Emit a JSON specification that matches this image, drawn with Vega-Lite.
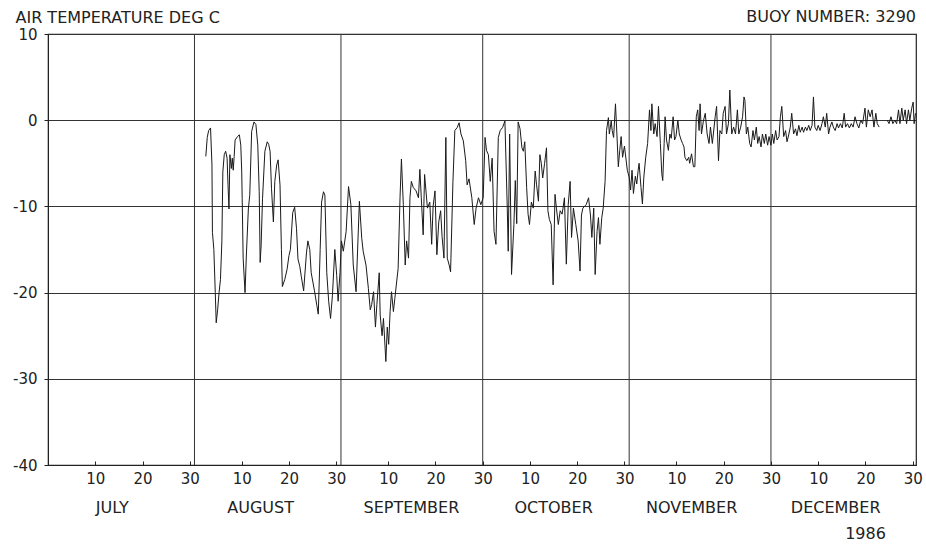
{
  "$schema": "https://vega.github.io/schema/vega-lite/v6.json",
  "width": 868,
  "height": 431,
  "autosize": "none",
  "padding": {"left": 48, "top": 34, "right": 10, "bottom": 87},
  "background": "white",
  "config": {
    "view": {"stroke": "#222", "strokeWidth": 1.2},
    "font": "DejaVu Sans",
    "axis": {
      "labelFont": "DejaVu Sans", "labelFontSize": 14, "labelColor": "#222",
      "titleFont": "DejaVu Sans", "titleFontSize": 16, "titleFontWeight": "normal", "titleColor": "#222",
      "domainColor": "#222", "tickColor": "#222", "gridColor": "#333", "gridOpacity": 1, "gridWidth": 1
    }
  },
  "datasets": {
    "buoy": [
      {"day":33.4,"temp":-4.2,"run":1},{"day":33.7,"temp":-2.0,"run":1},{"day":34.0,"temp":-1.2,"run":1},{"day":34.4,"temp":-0.9,"run":1},
      {"day":34.7,"temp":-5.2,"run":1},{"day":34.8,"temp":-13,"run":1},{"day":35.1,"temp":-15,"run":1},{"day":35.4,"temp":-20,"run":1},
      {"day":35.6,"temp":-23.5,"run":1},{"day":35.9,"temp":-22,"run":1},{"day":36.2,"temp":-20,"run":1},{"day":36.5,"temp":-18.5,"run":1},
      {"day":36.8,"temp":-14,"run":1},{"day":37.0,"temp":-6,"run":1},{"day":37.3,"temp":-4,"run":1},{"day":37.6,"temp":-3.6,"run":1},
      {"day":37.9,"temp":-4.4,"run":1},{"day":38.1,"temp":-7.5,"run":1},{"day":38.3,"temp":-10.3,"run":1},{"day":38.5,"temp":-4,"run":1},
      {"day":38.8,"temp":-5.6,"run":1},{"day":39.0,"temp":-4.4,"run":1},{"day":39.2,"temp":-5.8,"run":1},{"day":39.4,"temp":-4.2,"run":1},
      {"day":39.6,"temp":-2.3,"run":1},{"day":40.1,"temp":-1.9,"run":1},{"day":40.5,"temp":-1.7,"run":1},{"day":40.8,"temp":-2.9,"run":1},
      {"day":41.0,"temp":-6,"run":1},{"day":41.1,"temp":-9.1,"run":1},{"day":41.3,"temp":-16,"run":1},{"day":41.7,"temp":-20,"run":1},
      {"day":42.0,"temp":-15.4,"run":1},{"day":42.4,"temp":-10.3,"run":1},{"day":42.7,"temp":-8.7,"run":1},{"day":43.1,"temp":-1.3,"run":1},
      {"day":43.6,"temp":-0.2,"run":1},{"day":44.0,"temp":-0.5,"run":1},{"day":44.4,"temp":-2.9,"run":1},{"day":44.7,"temp":-8.3,"run":1},
      {"day":44.9,"temp":-16.5,"run":1},{"day":45.1,"temp":-14.6,"run":1},{"day":45.4,"temp":-9.1,"run":1},{"day":45.9,"temp":-3.6,"run":1},
      {"day":46.4,"temp":-2.5,"run":1},{"day":46.7,"temp":-2.8,"run":1},{"day":47.0,"temp":-3.6,"run":1},{"day":47.3,"temp":-7.9,"run":1},
      {"day":47.7,"temp":-11.8,"run":1},{"day":48.0,"temp":-7.1,"run":1},{"day":48.4,"temp":-5.2,"run":1},{"day":48.7,"temp":-4.6,"run":1},
      {"day":49.1,"temp":-7.5,"run":1},{"day":49.4,"temp":-15,"run":1},{"day":49.6,"temp":-19.3,"run":1},{"day":50.1,"temp":-18.5,"run":1},
      {"day":50.6,"temp":-17.3,"run":1},{"day":51.0,"temp":-15.7,"run":1},{"day":51.3,"temp":-15,"run":1},{"day":51.8,"temp":-10.7,"run":1},
      {"day":52.2,"temp":-10.1,"run":1},{"day":52.6,"temp":-12.6,"run":1},{"day":52.9,"temp":-16.1,"run":1},{"day":53.3,"temp":-17,"run":1},
      {"day":53.6,"temp":-18.1,"run":1},{"day":54.1,"temp":-19.8,"run":1},{"day":54.7,"temp":-15.4,"run":1},{"day":55.0,"temp":-14,"run":1},
      {"day":55.4,"temp":-15,"run":1},{"day":55.7,"temp":-17.7,"run":1},{"day":56.4,"temp":-19.8,"run":1},{"day":56.9,"temp":-21.5,"run":1},
      {"day":57.2,"temp":-22.5,"run":1},{"day":57.6,"temp":-15,"run":1},{"day":57.9,"temp":-9.5,"run":1},{"day":58.3,"temp":-8.3,"run":1},
      {"day":58.6,"temp":-8.7,"run":1},{"day":59.0,"temp":-17.7,"run":1},{"day":59.4,"temp":-21,"run":1},{"day":59.8,"temp":-23,"run":1},
      {"day":60.2,"temp":-20.3,"run":1},{"day":60.7,"temp":-15,"run":1},{"day":61.1,"temp":-18,"run":1},{"day":61.4,"temp":-21,"run":1},
      {"day":61.8,"temp":-17.7,"run":1},{"day":62.1,"temp":-14,"run":1},{"day":62.5,"temp":-15.2,"run":1},{"day":63.1,"temp":-12.9,"run":1},
      {"day":63.6,"temp":-7.7,"run":1},{"day":64.1,"temp":-9.8,"run":1},{"day":64.6,"temp":-16.8,"run":1},{"day":65.2,"temp":-19.9,"run":1},
      {"day":65.9,"temp":-9.4,"run":1},{"day":66.4,"temp":-13.7,"run":1},{"day":66.7,"temp":-15.2,"run":1},{"day":67.3,"temp":-16.8,"run":1},
      {"day":67.8,"temp":-19.5,"run":1},{"day":68.2,"temp":-22,"run":1},{"day":68.5,"temp":-21.4,"run":1},{"day":68.9,"temp":-19.9,"run":1},
      {"day":69.3,"temp":-24,"run":1},{"day":69.6,"temp":-21.4,"run":1},{"day":70.1,"temp":-17.7,"run":1},{"day":70.3,"temp":-22.6,"run":1},
      {"day":70.7,"temp":-25,"run":1},{"day":71.0,"temp":-23,"run":1},{"day":71.5,"temp":-28,"run":1},{"day":71.8,"temp":-24,"run":1},
      {"day":72.1,"temp":-26,"run":1},{"day":72.4,"temp":-22.2,"run":1},{"day":72.7,"temp":-19.9,"run":1},{"day":73.1,"temp":-22.2,"run":1},
      {"day":73.4,"temp":-20.7,"run":1},{"day":74.1,"temp":-17.2,"run":1},{"day":74.5,"temp":-9,"run":1},{"day":74.8,"temp":-4.5,"run":1},
      {"day":75.2,"temp":-9.8,"run":1},{"day":75.6,"temp":-16.8,"run":1},{"day":75.9,"temp":-14,"run":1},{"day":76.3,"temp":-16,"run":1},
      {"day":76.6,"temp":-9,"run":1},{"day":76.9,"temp":-7.1,"run":1},{"day":77.3,"temp":-7.8,"run":1},{"day":77.9,"temp":-8.2,"run":1},
      {"day":78.4,"temp":-9,"run":1},{"day":78.7,"temp":-5.7,"run":1},{"day":79.0,"temp":-9,"run":1},{"day":79.4,"temp":-13.3,"run":1},
      {"day":79.7,"temp":-6.3,"run":1},{"day":80.3,"temp":-10.2,"run":1},{"day":80.8,"temp":-9.5,"run":1},{"day":81.2,"temp":-14.4,"run":1},
      {"day":81.5,"temp":-10,"run":1},{"day":81.9,"temp":-8.2,"run":1},{"day":82.3,"temp":-15.6,"run":1},{"day":82.7,"temp":-11.8,"run":1},
      {"day":83.1,"temp":-10.5,"run":1},{"day":83.4,"temp":-13.5,"run":1},{"day":83.8,"temp":-16,"run":1},{"day":84.2,"temp":-2,"run":1},
      {"day":84.5,"temp":-16,"run":1},{"day":84.9,"temp":-16.8,"run":1},{"day":85.2,"temp":-17.6,"run":1},{"day":85.7,"temp":-7.1,"run":1},
      {"day":86.1,"temp":-1.2,"run":1},{"day":86.6,"temp":-0.85,"run":1},{"day":87.0,"temp":-0.3,"run":1},{"day":87.4,"temp":-1.6,"run":1},
      {"day":87.9,"temp":-2.4,"run":1},{"day":88.4,"temp":-4.7,"run":1},{"day":88.7,"temp":-7.5,"run":1},{"day":89.1,"temp":-6.8,"run":1},
      {"day":89.7,"temp":-9,"run":1},{"day":90.2,"temp":-12.1,"run":1},{"day":90.6,"temp":-10.2,"run":1},{"day":91.1,"temp":-9,"run":1},
      {"day":91.6,"temp":-9.8,"run":1},{"day":92.1,"temp":-9,"run":1},{"day":92.5,"temp":-2,"run":1},{"day":92.8,"temp":-3.5,"run":1},
      {"day":93.2,"temp":-4,"run":1},{"day":93.6,"temp":-7.1,"run":1},{"day":94.0,"temp":-4.4,"run":1},{"day":94.4,"temp":-12.9,"run":1},
      {"day":94.8,"temp":-14.4,"run":1},{"day":95.3,"temp":-2,"run":1},{"day":95.7,"temp":-1.2,"run":1},{"day":96.2,"temp":-0.85,"run":1},
      {"day":96.7,"temp":-0.1,"run":1},{"day":97.2,"temp":-10.2,"run":1},{"day":97.4,"temp":-15.2,"run":1},{"day":97.7,"temp":-1.6,"run":1},
      {"day":98.1,"temp":-17.9,"run":1},{"day":98.6,"temp":-12.1,"run":1},{"day":98.9,"temp":-7,"run":1},{"day":99.2,"temp":-12,"run":1},
      {"day":99.5,"temp":-0.2,"run":1},{"day":99.9,"temp":-1,"run":1},{"day":100.3,"temp":-3.2,"run":1},{"day":100.6,"temp":-3.6,"run":1},
      {"day":100.9,"temp":-2.5,"run":1},{"day":101.3,"temp":-7.8,"run":1},{"day":101.6,"temp":-10.9,"run":1},{"day":101.9,"temp":-12.1,"run":1},
      {"day":102.3,"temp":-9.5,"run":1},{"day":102.7,"temp":-10.2,"run":1},{"day":103.1,"temp":-5.9,"run":1},{"day":103.4,"temp":-7.5,"run":1},
      {"day":103.8,"temp":-9.4,"run":1},{"day":104.1,"temp":-4,"run":1},{"day":104.4,"temp":-5,"run":1},{"day":104.7,"temp":-6.7,"run":1},
      {"day":105.1,"temp":-5,"run":1},{"day":105.5,"temp":-3.2,"run":1},{"day":105.8,"temp":-10.5,"run":1},{"day":106.1,"temp":-11.5,"run":1},
      {"day":106.5,"temp":-12.1,"run":1},{"day":106.9,"temp":-19.1,"run":1},{"day":107.3,"temp":-8.6,"run":1},{"day":107.6,"temp":-10.2,"run":1},
      {"day":108.0,"temp":-12.1,"run":1},{"day":108.4,"temp":-10.5,"run":1},{"day":108.8,"temp":-10.9,"run":1},{"day":109.0,"temp":-10.2,"run":1},
      {"day":109.3,"temp":-9,"run":1},{"day":109.7,"temp":-16.7,"run":1},{"day":110.1,"temp":-9.8,"run":1},{"day":110.5,"temp":-7.1,"run":1},
      {"day":110.8,"temp":-13.6,"run":1},{"day":111.2,"temp":-10.2,"run":1},{"day":111.7,"temp":-12.1,"run":1},{"day":112.2,"temp":-14,"run":1},
      {"day":112.6,"temp":-17.5,"run":1},{"day":112.9,"temp":-11,"run":1},{"day":113.2,"temp":-10.2,"run":1},{"day":113.9,"temp":-9.8,"run":1},
      {"day":114.4,"temp":-9,"run":1},{"day":114.8,"temp":-11,"run":1},{"day":115.1,"temp":-13.6,"run":1},{"day":115.5,"temp":-10.2,"run":1},
      {"day":115.8,"temp":-17.9,"run":1},{"day":116.2,"temp":-12.9,"run":1},{"day":116.5,"temp":-11.3,"run":1},{"day":116.8,"temp":-14.4,"run":1},
      {"day":117.2,"temp":-11.3,"run":1},{"day":117.5,"temp":-10.2,"run":1},{"day":117.9,"temp":-7.1,"run":1},{"day":118.2,"temp":-1.2,"run":1},
      {"day":118.6,"temp":0.3,"run":1},{"day":118.8,"temp":-1.6,"run":1},{"day":119.2,"temp":-0.1,"run":1},{"day":119.4,"temp":-1.2,"run":1},
      {"day":119.7,"temp":-2,"run":1},{"day":120.1,"temp":1.9,"run":1},{"day":120.4,"temp":-1.6,"run":1},{"day":120.7,"temp":-5.4,"run":1},
      {"day":121.0,"temp":-3.5,"run":1},{"day":121.3,"temp":-1.9,"run":1},{"day":121.6,"temp":-4.3,"run":1},{"day":122.0,"temp":-3,"run":1},
      {"day":122.6,"temp":-5.8,"run":1},{"day":123.0,"temp":-6.6,"run":1},{"day":123.3,"temp":-8.1,"run":1},{"day":123.6,"temp":-5.8,"run":1},
      {"day":123.9,"temp":-8.5,"run":1},{"day":124.3,"temp":-6.5,"run":1},{"day":124.6,"temp":-7.4,"run":1},{"day":124.9,"temp":-5.8,"run":1},
      {"day":125.1,"temp":-5,"run":1},{"day":125.5,"temp":-7.8,"run":1},{"day":125.8,"temp":-9.7,"run":1},{"day":126.1,"temp":-6.6,"run":1},
      {"day":126.5,"temp":-4.3,"run":1},{"day":126.9,"temp":-2.7,"run":1},{"day":127.3,"temp":1.2,"run":1},{"day":127.6,"temp":-1.2,"run":1},
      {"day":127.8,"temp":1.9,"run":1},{"day":128.2,"temp":-1.6,"run":1},{"day":128.5,"temp":-0.4,"run":1},{"day":128.9,"temp":-1.9,"run":1},
      {"day":129.2,"temp":1.6,"run":1},{"day":129.6,"temp":-2.7,"run":1},{"day":129.9,"temp":-6.2,"run":1},{"day":130.1,"temp":-7,"run":1},
      {"day":130.4,"temp":-2.7,"run":1},{"day":130.6,"temp":0.4,"run":1},{"day":130.9,"temp":-2.3,"run":1},{"day":131.3,"temp":-3.5,"run":1},
      {"day":131.6,"temp":-1.6,"run":1},{"day":131.9,"temp":-2.1,"run":1},{"day":132.3,"temp":0.4,"run":1},{"day":132.6,"temp":-2.3,"run":1},
      {"day":132.9,"temp":-1.9,"run":1},{"day":133.3,"temp":0,"run":1},{"day":133.6,"temp":-1.6,"run":1},{"day":134.0,"temp":-2.3,"run":1},
      {"day":134.3,"temp":-2.7,"run":1},{"day":134.6,"temp":-3.1,"run":1},{"day":134.8,"temp":-4.3,"run":1},{"day":135.2,"temp":-4.7,"run":1},
      {"day":135.6,"temp":-4.3,"run":1},{"day":135.8,"temp":-5,"run":1},{"day":136.2,"temp":-3.9,"run":1},{"day":136.6,"temp":-5.4,"run":1},
      {"day":136.9,"temp":-5.4,"run":1},{"day":137.2,"temp":0.4,"run":1},{"day":137.5,"temp":1.2,"run":1},{"day":137.8,"temp":-1.2,"run":1},
      {"day":138.0,"temp":1.9,"run":1},{"day":138.3,"temp":-1.6,"run":1},{"day":138.7,"temp":-0.1,"run":1},{"day":139.1,"temp":0.8,"run":1},
      {"day":139.5,"temp":-1.6,"run":1},{"day":139.9,"temp":-2.7,"run":1},{"day":140.2,"temp":-0.8,"run":1},{"day":140.6,"temp":-2.7,"run":1},
      {"day":141.2,"temp":0.4,"run":1},{"day":141.5,"temp":1.6,"run":1},{"day":141.9,"temp":-4.7,"run":1},{"day":142.2,"temp":-1.2,"run":1},
      {"day":142.6,"temp":-1.6,"run":1},{"day":142.9,"temp":0.8,"run":1},{"day":143.3,"temp":1.6,"run":1},{"day":143.6,"temp":-1.6,"run":1},
      {"day":144.0,"temp":-0.4,"run":1},{"day":144.3,"temp":3.5,"run":1},{"day":144.7,"temp":-1.6,"run":1},{"day":145.1,"temp":-0.8,"run":1},
      {"day":145.5,"temp":-1.6,"run":1},{"day":145.9,"temp":1.2,"run":1},{"day":146.2,"temp":-1.6,"run":1},{"day":146.6,"temp":-0.8,"run":1},
      {"day":147.0,"temp":0.4,"run":1},{"day":147.3,"temp":2.7,"run":1},{"day":147.5,"temp":2.3,"run":1},{"day":147.8,"temp":-1.6,"run":1},
      {"day":148.1,"temp":-0.8,"run":1},{"day":148.5,"temp":-2.7,"run":1},{"day":148.8,"temp":-3.1,"run":1},{"day":149.2,"temp":-1.2,"run":1},
      {"day":149.5,"temp":-2.3,"run":1},{"day":149.9,"temp":-0.8,"run":1},{"day":150.2,"temp":-2.7,"run":1},{"day":150.5,"temp":-1.9,"run":1},
      {"day":150.9,"temp":-3.1,"run":1},{"day":151.2,"temp":-1.6,"run":1},{"day":151.6,"temp":-2.7,"run":1},{"day":151.9,"temp":-1.6,"run":1},
      {"day":152.3,"temp":-2.9,"run":1},{"day":152.6,"temp":-1.9,"run":1},{"day":153.0,"temp":-2.9,"run":1},{"day":153.3,"temp":-1.6,"run":1},
      {"day":153.6,"temp":-2.7,"run":1},{"day":154.0,"temp":-1.2,"run":1},{"day":154.3,"temp":-2.3,"run":1},{"day":154.7,"temp":-1.9,"run":1},
      {"day":155.0,"temp":0.4,"run":1},{"day":155.3,"temp":1.6,"run":1},{"day":155.7,"temp":-1.9,"run":1},{"day":156.1,"temp":-1.2,"run":1},
      {"day":156.4,"temp":-2.5,"run":1},{"day":156.8,"temp":-1.6,"run":1},{"day":157.1,"temp":-0.8,"run":1},{"day":157.4,"temp":0.8,"run":1},
      {"day":157.8,"temp":-1.6,"run":1},{"day":158.2,"temp":-1.0,"run":1},{"day":158.5,"temp":-1.8,"run":1},{"day":158.9,"temp":-0.6,"run":1},
      {"day":159.2,"temp":-1.4,"run":1},{"day":159.6,"temp":-0.8,"run":1},{"day":159.9,"temp":-1.4,"run":1},{"day":160.3,"temp":-0.8,"run":1},
      {"day":160.6,"temp":-1.2,"run":1},{"day":161.0,"temp":-0.6,"run":1},{"day":161.3,"temp":-1.2,"run":1},{"day":161.7,"temp":-0.6,"run":1},
      {"day":162.0,"temp":2.7,"run":1},{"day":162.3,"temp":-0.8,"run":1},{"day":162.7,"temp":-1.2,"run":1},{"day":163.0,"temp":-0.6,"run":1},
      {"day":163.4,"temp":-1.2,"run":1},{"day":163.8,"temp":-0.4,"run":1},{"day":164.1,"temp":0.4,"run":1},{"day":164.5,"temp":-0.8,"run":1},
      {"day":164.8,"temp":0.8,"run":1},{"day":165.2,"temp":-1.6,"run":1},{"day":165.5,"temp":-0.8,"run":1},{"day":165.9,"temp":-0.2,"run":1},
      {"day":166.2,"temp":-0.8,"run":1},{"day":166.6,"temp":-1.2,"run":1},{"day":167.0,"temp":-0.4,"run":1},{"day":167.3,"temp":-0.9,"run":1},
      {"day":167.7,"temp":-0.4,"run":1},{"day":168.1,"temp":-0.9,"run":1},{"day":168.5,"temp":0.8,"run":1},{"day":168.8,"temp":-0.8,"run":1},
      {"day":169.2,"temp":-0.4,"run":1},{"day":169.6,"temp":-0.9,"run":1},{"day":170.0,"temp":-0.4,"run":1},{"day":170.4,"temp":-0.8,"run":1},
      {"day":170.8,"temp":0.4,"run":1},{"day":171.2,"temp":-0.4,"run":1},{"day":171.6,"temp":-0.9,"run":1},{"day":172.0,"temp":0,"run":1},
      {"day":172.4,"temp":-0.4,"run":1},{"day":172.9,"temp":1.4,"run":1},{"day":173.2,"temp":-0.8,"run":1},{"day":173.6,"temp":1.2,"run":1},
      {"day":174.0,"temp":0.4,"run":1},{"day":174.4,"temp":1.2,"run":1},{"day":174.8,"temp":-0.8,"run":1},{"day":175.2,"temp":0.8,"run":1},
      {"day":175.5,"temp":-0.4,"run":1},{"day":175.9,"temp":-0.8,"run":1},
      {"day":177.6,"temp":0,"run":2},{"day":178.0,"temp":-0.4,"run":2},{"day":178.4,"temp":0.4,"run":2},{"day":178.8,"temp":-0.4,"run":2},
      {"day":179.2,"temp":0,"run":2},{"day":179.6,"temp":-0.4,"run":2},{"day":180.0,"temp":1.2,"run":2},{"day":180.3,"temp":-0.4,"run":2},
      {"day":180.7,"temp":1.4,"run":2},{"day":181.0,"temp":0,"run":2},{"day":181.4,"temp":1.2,"run":2},{"day":181.7,"temp":-0.4,"run":2},
      {"day":182.1,"temp":1.2,"run":2},{"day":182.4,"temp":0,"run":2},{"day":182.8,"temp":1.4,"run":2},{"day":183.1,"temp":2.1,"run":2},
      {"day":183.3,"temp":-0.4,"run":2},{"day":183.6,"temp":0.8,"run":2}
    ],
    "monthEnds": [{"boundary":31},{"boundary":62},{"boundary":92},{"boundary":123},{"boundary":153}],
    "buoyId": [{"label":"BUOY NUMBER: 3290"}]
  },
  "layer": [
    {
      "data": {"name": "monthEnds"},
      "mark": {"type": "rule", "color": "#333", "strokeWidth": 1},
      "encoding": {
        "x": {
          "field": "boundary", "type": "quantitative",
          "scale": {"domain": [0, 183.7], "nice": false, "zero": false},
          "axis": {
            "orient": "bottom", "values": [13.5, 44.9, 76.8, 106.9, 136.1, 166.6],
            "labelExpr": "datum.value < 30 ? 'JULY' : datum.value < 60 ? 'AUGUST' : datum.value < 90 ? 'SEPTEMBER' : datum.value < 120 ? 'OCTOBER' : datum.value < 150 ? 'NOVEMBER' : 'DECEMBER'",
            "ticks": false, "domain": false, "grid": false, "labelPadding": 34, "labelFontSize": 16, "title": null
          }
        }
      }
    },
    {
      "data": {"name": "buoy"},
      "mark": {"type": "line", "color": "#1a1a1a", "strokeWidth": 1, "clip": true},
      "encoding": {
        "x": {
          "field": "day", "type": "quantitative",
          "scale": {"domain": [0, 183.7], "nice": false, "zero": false},
          "axis": {
            "orient": "bottom",
            "values": [10, 20, 30, 41, 51, 61, 72, 82, 92, 102, 112, 122, 133, 143, 153, 163, 173, 183],
            "labelExpr": "datum.value <= 31 ? datum.value : datum.value <= 62 ? datum.value - 31 : datum.value <= 92 ? datum.value - 62 : datum.value <= 123 ? datum.value - 92 : datum.value <= 153 ? datum.value - 123 : datum.value - 153",
            "grid": false, "tickSize": -4, "labelPadding": 10, "labelFontSize": 15,
            "title": "1986", "titleX": 817, "titleY": 68, "titleAlign": "center", "titleBaseline": "middle", "titleFontSize": 16
          }
        },
        "y": {
          "field": "temp", "type": "quantitative",
          "scale": {"domain": [-40, 10], "nice": false, "zero": false},
          "axis": {
            "values": [-40, -30, -20, -10, 0, 10],
            "labelExpr": "datum.value < 0 ? '-' + abs(datum.value) : '' + datum.value",
            "grid": true, "tickSize": 4, "labelPadding": 7, "labelFontSize": 15,
            "title": "AIR TEMPERATURE DEG C", "titleAngle": 0, "titleX": -33, "titleY": -17,
            "titleAlign": "left", "titleBaseline": "middle", "titleFontSize": 16
          }
        },
        "detail": {"field": "run", "type": "nominal"}
      }
    },
    {
      "data": {"name": "buoyId"},
      "mark": {"type": "text", "align": "right", "baseline": "middle", "fontSize": 16, "font": "DejaVu Sans", "color": "#222", "clip": false},
      "encoding": {
        "x": {"datum": 183.7, "type": "quantitative", "axis": null},
        "y": {"datum": 11.95, "type": "quantitative"},
        "text": {"field": "label", "type": "nominal"}
      }
    }
  ],
  "resolve": {"axis": {"x": "independent"}}
}
